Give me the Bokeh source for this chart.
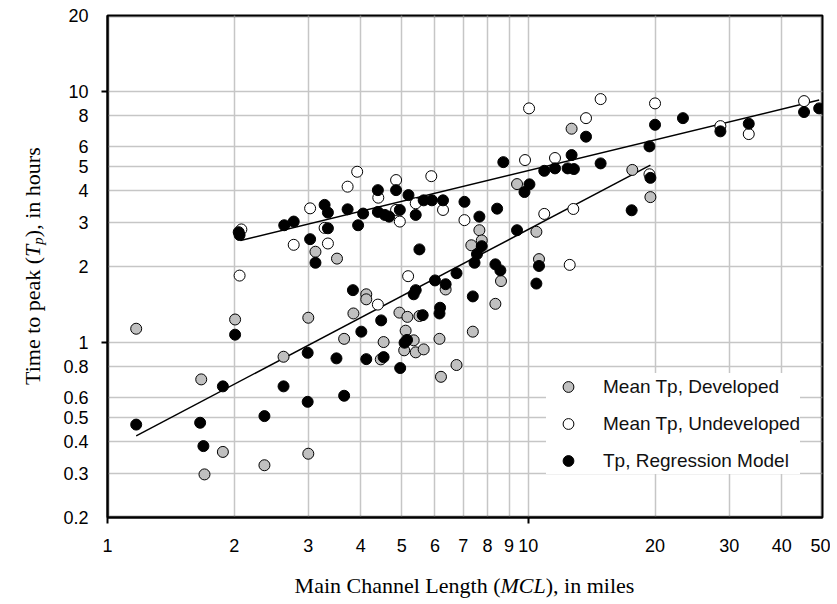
from bokeh.plotting import figure
from bokeh.layouts import row, column
from bokeh.models import (FixedTicker, CustomJSTickFormatter, Legend, LegendItem,
                          BoxAnnotation, Div)
from bokeh.embed import file_html
from bokeh.resources import INLINE

# ---------------- data ----------------
dev_x = [1.17, 1.67, 1.70, 1.88, 2.01, 2.36, 3.00, 3.00, 2.62, 3.12, 3.51, 3.65,
         3.84, 4.12, 4.12, 4.53, 4.46, 4.94, 5.16, 5.11, 5.34, 5.07, 5.40, 5.64,
         5.51, 6.15, 6.20, 6.75, 6.36, 7.38, 7.32, 7.65, 7.75, 8.61, 8.35, 9.40,
         10.45, 10.6, 12.67, 17.66, 19.5]
dev_y = [1.13, 0.71, 0.297, 0.365, 1.23, 0.323, 0.359, 1.25, 0.874, 2.29, 2.15, 1.03,
         1.30, 1.55, 1.48, 1.00, 0.853, 1.31, 1.26, 1.11, 1.016, 0.927, 0.91, 0.935,
         1.27, 1.03, 0.727, 0.81, 1.62, 1.10, 2.43, 2.79, 2.54, 1.75, 1.42, 4.26,
         2.75, 2.14, 7.08, 4.85, 3.78]

und_x = [2.06, 2.08, 2.77, 3.03, 3.28, 3.34, 3.72, 3.92, 4.39, 4.40, 4.85, 4.85,
         4.95, 5.18, 5.40, 5.88, 6.27, 7.05, 9.82, 10.04, 10.91, 11.57, 12.54, 12.79,
         13.71, 14.85, 19.4, 20.0, 28.6, 33.4, 45.2]
und_y = [1.84, 2.81, 2.44, 3.41, 2.85, 2.47, 4.16, 4.77, 1.41, 3.76, 4.42, 3.36,
         3.02, 1.83, 3.57, 4.58, 3.36, 3.06, 5.31, 8.53, 3.24, 5.41, 2.03, 3.39,
         7.80, 9.29, 4.66, 8.93, 7.25, 6.74, 9.12]

reg_x = [1.17, 1.66, 1.69, 1.88, 2.01, 2.05, 2.06, 2.36, 2.62, 2.63, 2.77, 2.99,
         2.99, 3.03, 3.12, 3.28, 3.34, 3.34, 3.50, 3.65, 3.72, 3.83, 3.94, 4.01,
         4.05, 4.12, 4.39, 4.39, 4.47, 4.53, 4.56, 4.67, 4.85, 4.95, 4.96, 5.08,
         5.15, 5.19, 5.34, 5.40, 5.40, 5.51, 5.61, 5.64, 5.90, 6.00, 6.15, 6.17,
         6.27, 6.36, 6.75, 7.05, 7.38, 7.45, 7.55, 7.65, 7.75, 8.35, 8.58, 8.43,
         8.72, 9.40, 9.79, 10.06, 10.45, 10.6, 10.91, 11.57, 12.40, 12.67, 12.83,
         13.71, 14.85, 17.6, 19.4, 19.5, 20.0, 23.3, 28.6, 33.4, 45.2, 49.1]
reg_y = [0.469, 0.477, 0.385, 0.666, 1.07, 2.74, 2.67, 0.507, 0.666, 2.92, 3.02, 0.906,
         0.578, 2.57, 2.07, 3.52, 3.28, 2.84, 0.861, 0.611, 3.38, 1.61, 2.92, 1.10,
         3.25, 0.855, 4.03, 3.30, 1.22, 0.871, 3.21, 3.16, 4.03, 3.36, 0.788, 0.994,
         1.02, 3.85, 1.55, 1.61, 3.21, 2.34, 1.28, 3.67, 3.67, 1.76, 1.30, 1.37,
         3.67, 1.70, 1.88, 3.62, 1.52, 2.07, 2.24, 3.16, 2.41, 2.04, 1.93, 3.40,
         5.21, 2.79, 3.96, 4.25, 1.71, 2.01, 4.81, 4.92, 4.92, 5.56, 4.89,
         6.58, 5.15, 3.35, 6.02, 4.51, 7.34, 7.80, 6.91, 7.41, 8.25, 8.53]

# trend lines (end points)
und_line_x = [2.07, 49.1]
und_line_y = [2.54, 9.21]
dev_line_x = [1.17, 19.5]
dev_line_y = [0.423, 5.07]

x_ticks = [1, 2, 3, 4, 5, 6, 7, 8, 9, 10, 20, 30, 40, 50]
y_ticks = [0.2, 0.3, 0.4, 0.5, 0.6, 0.8, 1, 2, 3, 4, 5, 6, 8, 10, 20]
major_marks = [1, 10]

labels = ["Mean Tp, Developed", "Mean Tp, Undeveloped", "Tp, Regression Model"]
x_title_html = "Main Channel Length (<i>MCL</i>), in miles"
y_title_html = "Time to peak (<i>T<sub style='font-size:15px'>p</sub></i>), in hours"

# ---------------- figure ----------------
YW = 50                 # width of the y-title strip
p = figure(width=780, height=575, x_axis_type="log", y_axis_type="log",
           x_range=(1, 50), y_range=(0.2, 20),
           output_backend="svg", toolbar_location=None,
           min_border_left=57, min_border_right=8, min_border_top=15, min_border_bottom=58)
p.background_fill_color = "white"
p.border_fill_color = "white"
p.outline_line_color = "black"
p.outline_line_width = 2

fmt = CustomJSTickFormatter(code="return String(tick);")
p.xaxis.ticker = FixedTicker(ticks=x_ticks, minor_ticks=major_marks)
p.yaxis.ticker = FixedTicker(ticks=y_ticks, minor_ticks=major_marks)
for ax in (p.xaxis, p.yaxis):
    ax.formatter = fmt
    ax.axis_line_color = "black"
    ax.axis_line_width = 2
    ax.major_tick_out = 0
    ax.major_tick_in = 0
    ax.major_tick_line_color = None
    ax.minor_tick_out = 6
    ax.minor_tick_in = 0
    ax.minor_tick_line_color = "black"
    ax.minor_tick_line_width = 2
    ax.major_label_text_font = "Liberation Sans"
    ax.major_label_text_font_size = "18px"
    ax.major_label_text_color = "black"
p.xaxis.major_label_standoff = 15
p.yaxis.major_label_standoff = 13

p.xgrid.grid_line_color = "#c6c6c6"
p.ygrid.grid_line_color = "#c6c6c6"
p.xgrid.grid_line_width = 1.5
p.ygrid.grid_line_width = 1.5

# trend lines
p.line(und_line_x, und_line_y, line_color="black", line_width=1.5)
p.line(dev_line_x, dev_line_y, line_color="black", line_width=1.5)

r_dev = p.scatter(dev_x, dev_y, marker="circle", size=11, fill_color="#c0c0c0",
                  line_color="black", line_width=1)
r_und = p.scatter(und_x, und_y, marker="circle", size=11, fill_color="white",
                  line_color="black", line_width=1)
r_reg = p.scatter(reg_x, reg_y, marker="circle", size=11, fill_color="black",
                  line_color="black", line_width=1)

legend = Legend(items=[LegendItem(label=labels[0], renderers=[r_dev]),
                       LegendItem(label=labels[1], renderers=[r_und]),
                       LegendItem(label=labels[2], renderers=[r_reg])],
                location=(439, 43), padding=14, glyph_width=44, glyph_height=27,
                label_height=27, spacing=10, label_standoff=13, margin=0,
                label_text_font="Liberation Sans", label_text_font_size="19px",
                label_text_color="#111111",
                border_line_color=None, background_fill_color="white",
                background_fill_alpha=1)
p.add_layout(legend)

# frame border (inset so that it is not clipped by the frame)
p.add_layout(BoxAnnotation(left=1, right=714, bottom=1, top=501,
                           left_units="screen", right_units="screen",
                           bottom_units="screen", top_units="screen",
                           fill_alpha=0, line_color="black", line_width=2, level="overlay"))

# ---------------- axis titles as HTML (italic / subscript) ----------------
x_div = Div(text=("<div style=\"width:715px;margin-left:57px;text-align:center;"
                  "font-family:'Liberation Serif';font-size:22px;line-height:22px;"
                  "white-space:nowrap;color:black;\">" + x_title_html + "</div>"),
            width=780, height=23, margin=0)
y_div = Div(text=("<div style=\"height:502px;margin-top:15px;width:26px;margin-left:20px;"
                  "writing-mode:vertical-rl;transform:rotate(180deg);text-align:center;"
                  "font-family:'Liberation Serif';font-size:22px;line-height:26px;"
                  "white-space:nowrap;color:black;\">" + y_title_html + "</div>"),
            width=YW, height=598, margin=0)

layout = row(y_div, column(p, x_div, spacing=0), spacing=0)

open("out.html", "w").write(file_html(layout, INLINE))
